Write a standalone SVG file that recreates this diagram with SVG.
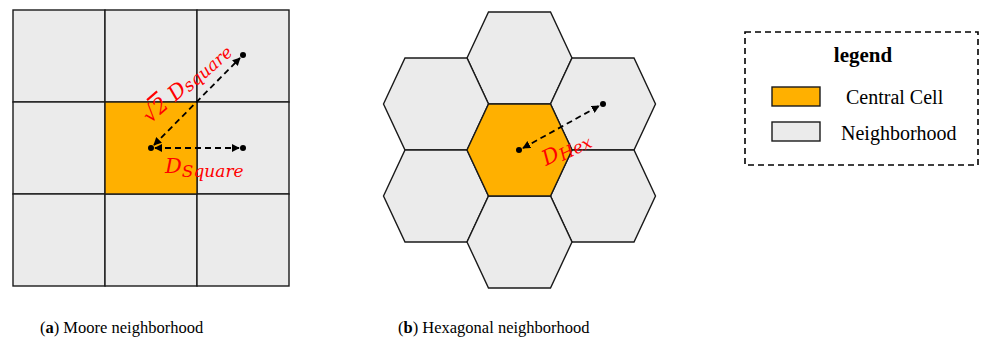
<svg xmlns="http://www.w3.org/2000/svg" width="981" height="342" viewBox="0 0 981 342">
<style>
.nb{fill:#EBEBEB;stroke:#1a1a1a;stroke-width:1.4}
.ct{fill:#FFB000;stroke:#1a1a1a;stroke-width:1.4}
.arr{stroke:#000;stroke-width:1.8;stroke-dasharray:6 4;fill:none;marker-start:url(#ah);marker-end:url(#ah)}
.dot{fill:#000}
.lbl{font-family:"DejaVu Serif",serif;font-style:italic;fill:#FF0000;font-size:21px}
.sub{font-size:17px}
.cap{font-family:"Liberation Serif",serif;font-size:16.5px;fill:#000}
.leg{font-family:"Liberation Serif",serif;font-size:20px;fill:#000}
</style>
<defs>
<marker id="ah" viewBox="0 0 10 10" refX="9" refY="5" markerWidth="8" markerHeight="8" markerUnits="userSpaceOnUse" orient="auto-start-reverse">
<path d="M0,0 L10,5 L0,10 z" fill="#000"/>
</marker>
<polygon id="hex" points="-52.5,0 -31,-46 31,-46 52.5,0 31,46 -31,46"/>
</defs>
<rect width="981" height="342" fill="#fff"/>

<g id="moore-grid">
<rect class="nb" x="13" y="10" width="92" height="92"/>
<rect class="nb" x="105" y="10" width="92" height="92"/>
<rect class="nb" x="197" y="10" width="92" height="92"/>
<rect class="nb" x="13" y="102" width="92" height="92"/>
<rect class="nb" x="197" y="102" width="92" height="92"/>
<rect class="nb" x="13" y="194" width="92" height="92"/>
<rect class="nb" x="105" y="194" width="92" height="92"/>
<rect class="nb" x="197" y="194" width="92" height="92"/>
</g>
<g id="moore-central">
<rect class="ct" x="105" y="102" width="92" height="92"/>
</g>

<g id="hex-grid">
<use href="#hex" class="nb" x="519.5" y="58"/>
<use href="#hex" class="nb" x="436" y="104"/>
<use href="#hex" class="nb" x="603" y="104"/>
<use href="#hex" class="nb" x="436" y="196"/>
<use href="#hex" class="nb" x="603" y="196"/>
<use href="#hex" class="nb" x="519.5" y="242"/>
</g>
<g id="hex-central">
<use href="#hex" class="ct" x="519.5" y="150"/>
</g>

<g id="connectors">
<line class="arr" x1="154" y1="145" x2="240" y2="58"/>
<line class="arr" x1="155" y1="148" x2="239" y2="148"/>
<line class="arr" x1="523" y1="148" x2="599" y2="106"/>
<circle class="dot" cx="151" cy="148" r="3"/>
<circle class="dot" cx="243" cy="148" r="3"/>
<circle class="dot" cx="243" cy="55" r="3"/>
<circle class="dot" cx="519" cy="150" r="3"/>
<circle class="dot" cx="603" cy="104" r="3"/>
</g>

<g id="labels">
<text class="lbl" transform="translate(150,124) rotate(-41)">√<tspan text-decoration="overline">2</tspan> D<tspan class="sub" dy="2">square</tspan></text>
<text class="lbl" x="165" y="173">D<tspan class="sub" dy="4">Square</tspan></text>
<text class="lbl" transform="translate(546,166) rotate(-26)">D<tspan class="sub" dy="3">Hex</tspan></text>
</g>

<g id="legend">
<rect x="745" y="32" width="233" height="133" fill="none" stroke="#000" stroke-width="1.6" stroke-dasharray="6 4"/>
<text x="863" y="62" text-anchor="middle" font-family="'Liberation Serif',serif" font-weight="bold" font-size="21">legend</text>
<rect class="ct" x="772" y="87" width="48" height="19"/>
<text class="leg" x="846" y="104">Central Cell</text>
<rect class="nb" x="772" y="122" width="48" height="19"/>
<text class="leg" x="841" y="140">Neighborhood</text>
</g>

<g id="captions">
<text class="cap" x="40" y="333">(<tspan font-weight="bold">a</tspan>) Moore neighborhood</text>
<text class="cap" x="398" y="333">(<tspan font-weight="bold">b</tspan>) Hexagonal neighborhood</text>
</g>
</svg>
